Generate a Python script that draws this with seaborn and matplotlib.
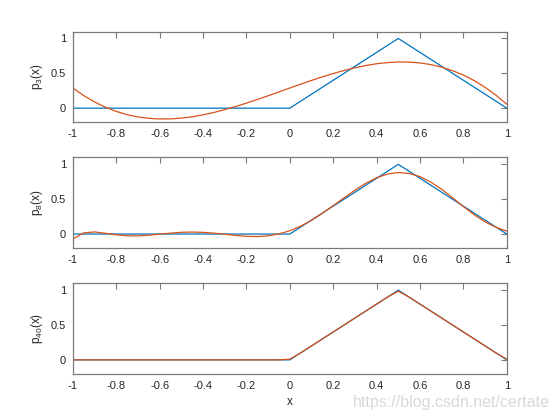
import numpy as np
import pandas as pd
import matplotlib
matplotlib.use("Agg")
import matplotlib.pyplot as plt
import seaborn as sns

# target function (piecewise linear hat on [0, 1])
f_x = [-1.0, 0.0, 0.5, 1.0]
f_y = [0.0, 0.0, 1.0, 0.0]

grid_x = [round(-1 + 0.05 * i, 2) for i in range(41)]
p3_y = [0.289, 0.181, 0.089, 0.014, -0.047, -0.093, -0.126, -0.146, -0.155, -0.154,
        -0.143, -0.124, -0.096, -0.062, -0.022, 0.023, 0.072, 0.124, 0.178, 0.233,
        0.289, 0.344, 0.398, 0.449, 0.497, 0.541, 0.579, 0.612, 0.637, 0.654,
        0.663, 0.661, 0.649, 0.625, 0.589, 0.538, 0.475, 0.395, 0.299, 0.186, 0.055]
p8_y = [-0.073, 0.017, 0.030, 0.011, -0.011, -0.025, -0.026, -0.017, -0.002, 0.013,
        0.025, 0.028, 0.024, 0.013, -0.003, -0.020, -0.033, -0.036, -0.026, 0.001,
        0.047, 0.113, 0.197, 0.297, 0.407, 0.520, 0.630, 0.728, 0.807, 0.861,
        0.883, 0.870, 0.824, 0.745, 0.642, 0.521, 0.395, 0.276, 0.174, 0.097, 0.042]
p40_x = [-1.0, -0.05, 0.0, 0.05, 0.45, 0.5, 0.55, 0.95, 1.0]
p40_y = [0.0, 0.0, 0.01, 0.1, 0.9, 0.985, 0.9, 0.1, 0.01]

x_ticks = [-1, -0.8, -0.6, -0.4, -0.2, 0, 0.2, 0.4, 0.6, 0.8, 1]
x_ticklabels = ["-1", "-0.8", "-0.6", "-0.4", "-0.2", "0", "0.2", "0.4", "0.6", "0.8", "1"]
y_ticks = [0, 0.5, 1]
y_ticklabels = ["0", "0.5", "1"]
y_labels = [r"p$_3$(x)", r"p$_8$(x)", r"p$_{40}$(x)"]

BLUE = "#0072BD"
RED = "#D95319"
TEXT_COLOR = "#262626"
SPINE_COLOR = "#7a7a7a"

sns.set_theme(style="white")
plt.rcParams["font.family"] = ["Liberation Sans", "DejaVu Sans"]
plt.rcParams["mathtext.default"] = "regular"
plt.rcParams["axes.unicode_minus"] = False

fig = plt.figure(figsize=(5.6, 4.2), dpi=100)
positions = [[0.13, 0.7093, 0.775, 0.2157],
             [0.13, 0.4096, 0.775, 0.2157],
             [0.13, 0.11, 0.775, 0.2157]]
approx = [(grid_x, p3_y), (grid_x, p8_y), (p40_x, p40_y)]

for i, (pos, (ax_x, ax_y)) in enumerate(zip(positions, approx)):
    ax = fig.add_axes(pos)
    blue_df = pd.DataFrame({"x": f_x, "y": f_y})
    red_df = pd.DataFrame({"x": ax_x, "y": ax_y})
    sns.lineplot(data=blue_df, x="x", y="y", ax=ax, color=BLUE, linewidth=0.9,
                 estimator=None, sort=False)
    sns.lineplot(data=red_df, x="x", y="y", ax=ax, color=RED, linewidth=0.9,
                 estimator=None, sort=False)
    ax.set_xlim(-1, 1)
    ax.set_ylim(-0.2, 1.1)
    ax.set_xticks(x_ticks)
    ax.set_xticklabels(x_ticklabels)
    ax.set_yticks(y_ticks)
    ax.set_yticklabels(y_ticklabels)
    ax.tick_params(direction="in", length=4, width=0.8, color=SPINE_COLOR,
                   labelcolor=TEXT_COLOR, labelsize=8, top=True, right=True, pad=5)
    for s in ax.spines.values():
        s.set_color(SPINE_COLOR)
        s.set_linewidth(0.9)
    ax.set_ylabel(y_labels[i], fontsize=8.5, color=TEXT_COLOR, labelpad=4)
    ax.set_xlabel("x" if i == 2 else "", fontsize=8.5, color=TEXT_COLOR, labelpad=4)

fig.text(0.982, 0.024, "https://blog.csdn.net/certate", ha="right", va="bottom",
         fontsize=11.5, color="#d8d8d8")

fig.savefig("out.png", dpi=100)
